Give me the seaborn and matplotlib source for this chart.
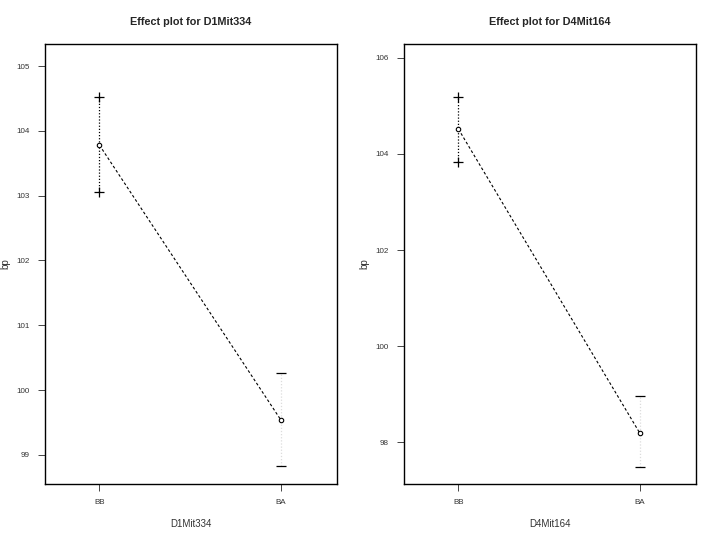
import matplotlib
matplotlib.use("Agg")
import matplotlib.pyplot as plt
import seaborn as sns
import pandas as pd
import numpy as np

# DATA
markers = ["D1Mit334", "D4Mit164"]
genotypes = ["BB", "BA"]
means = {"D1Mit334": [103.78, 99.54], "D4Mit164": [104.52, 98.19]}
lower = {"D1Mit334": [103.05, 98.83], "D4Mit164": [103.83, 97.48]}
upper = {"D1Mit334": [104.52, 100.26], "D4Mit164": [105.19, 98.96]}
yticks = {"D1Mit334": [99, 100, 101, 102, 103, 104, 105],
          "D4Mit164": [98, 100, 102, 104, 106]}
ylims = {"D1Mit334": (98.55, 105.34), "D4Mit164": (97.13, 106.29)}

sns.set_style("white")
plt.rcParams["font.family"] = ["Liberation Sans", "DejaVu Sans"]

fig = plt.figure(figsize=(7.2, 5.4), dpi=100)
lefts = [45 / 720, 404 / 720]
bar_colors = ["black", "#dcdcdc"]
cap_marks = ["+", "_"]

for left, mk in zip(lefts, markers):
    ax = fig.add_axes([left, 56 / 540, 292 / 720, 440 / 540])
    df = pd.DataFrame({"geno": genotypes, "pos": np.arange(len(genotypes)),
                       "bp": means[mk], "lo": lower[mk], "hi": upper[mk]})

    # error bars
    for i, row in df.iterrows():
        ax.plot([row["pos"], row["pos"]], [row["lo"], row["hi"]],
                ls=(0, (1, 1.5)), lw=0.9, color=bar_colors[i])
        ax.plot([row["pos"]] * 2, [row["lo"], row["hi"]], ls="none",
                marker=cap_marks[i], ms=7, mew=0.9, color="black")

    # effect line
    sns.lineplot(data=df, x="pos", y="bp", ax=ax, color="black", lw=0.8,
                 sort=False, estimator=None)
    ax.lines[-1].set_linestyle((0, (2.5, 2)))
    ax.plot(df["pos"], df["bp"], ls="none", marker="o", ms=3.2,
            mfc="white", mec="black", mew=0.8)

    ax.set_xlim(-0.3, 1.31)
    ax.set_ylim(*ylims[mk])
    ax.set_xticks(df["pos"])
    ax.set_xticklabels(genotypes)
    ax.set_yticks(yticks[mk])
    ax.set_yticklabels([str(t) for t in yticks[mk]])
    ax.tick_params(axis="both", direction="out", length=5, width=0.7,
                   color="#444444", labelsize=5.8, labelcolor="#333333",
                   left=True, bottom=True, pad=6)
    for s in ax.spines.values():
        s.set_linewidth(1.0)
        s.set_color("black")
    ax.set_xlabel(mk, fontsize=7, color="#333333", labelpad=9)
    ax.set_ylabel("bp", fontsize=7, color="#333333")
    ax.yaxis.set_label_coords(-0.12, 0.5)
    ax.set_title(f"Effect plot for {mk}", fontsize=7.8, fontweight="bold",
                 pad=14)

fig.savefig("out.png", dpi=100, facecolor="white")
